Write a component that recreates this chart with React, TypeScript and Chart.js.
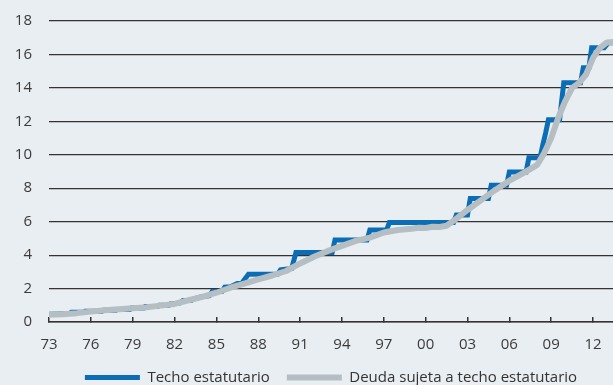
import React, { useEffect, useRef } from "react";
import { Chart, registerables } from "chart.js";

Chart.register(...registerables);

// Years on the x axis (fractional = within-year position)
const tickYears = [1973, 1976, 1979, 1982, 1985, 1988, 1991, 1994, 1997, 2000, 2003, 2006, 2009, 2012];

// Statutory debt limit (trillions USD), step changes
const ceilingYears = [
  1973.0, 1974.5, 1974.6, 1975.5, 1975.6, 1976.8, 1976.9, 1977.8, 1977.9, 1978.8, 1978.9,
  1979.8, 1979.9, 1980.8, 1980.9, 1981.6, 1981.7, 1982.4, 1982.6, 1983.2, 1983.4, 1983.8,
  1984.5, 1984.7, 1985.4, 1985.6, 1986.0, 1986.5, 1986.8, 1987.3, 1989.4, 1989.6, 1990.4,
  1990.7, 1993.3, 1993.5, 1995.8, 1996.0, 1997.2, 1997.4, 2002.0, 2002.2, 2003.0, 2003.2,
  2004.5, 2004.7, 2005.8, 2006.0, 2007.2, 2007.4, 2008.2, 2008.4, 2008.6, 2008.8, 2009.6,
  2009.9, 2011.1, 2011.3, 2011.7, 2011.9, 2012.8, 2013.1, 2013.45,
];
const ceilingValues = [
  0.47, 0.50, 0.58, 0.58, 0.64, 0.64, 0.70, 0.70, 0.75, 0.75, 0.83,
  0.83, 0.93, 0.93, 1.00, 1.00, 1.08, 1.14, 1.29, 1.29, 1.39, 1.49,
  1.57, 1.82, 1.82, 2.08, 2.11, 2.30, 2.30, 2.85, 2.87, 3.12, 3.20,
  4.15, 4.15, 4.90, 4.90, 5.50, 5.50, 5.95, 5.95, 6.40, 6.40, 7.38,
  7.38, 8.18, 8.18, 8.97, 8.97, 9.82, 9.82, 10.60, 11.30, 12.10, 12.10,
  14.30, 14.30, 15.20, 15.20, 16.40, 16.40, 16.70, 16.70,
];

// Debt subject to the limit (trillions USD)
const debtYears = [
  1973, 1974, 1975, 1976, 1977, 1978, 1979, 1980, 1981, 1982, 1983, 1984, 1985, 1986,
  1987, 1988, 1989, 1990, 1991, 1992, 1993, 1994, 1995, 1996, 1997, 1998, 1999, 1999.5,
  2000, 2000.5, 2001, 2001.5, 2002, 2003, 2004, 2005, 2006, 2007, 2008, 2008.5, 2009,
  2009.5, 2010, 2010.5, 2011, 2011.5, 2012, 2012.5, 2013, 2013.45,
];
const debtValues = [
  0.43, 0.47, 0.53, 0.62, 0.70, 0.76, 0.82, 0.88, 0.98, 1.08, 1.30, 1.50, 1.75, 2.05,
  2.30, 2.55, 2.78, 3.05, 3.50, 3.90, 4.25, 4.55, 4.85, 5.05, 5.35, 5.50, 5.58, 5.64,
  5.62, 5.70, 5.68, 5.76, 6.05, 6.70, 7.30, 7.90, 8.45, 8.90, 9.40, 10.10, 11.00,
  12.20, 13.20, 14.00, 14.30, 14.80, 15.80, 16.40, 16.72, 16.75,
];

const seriesLabels = ["Techo estatutario", "Deuda sujeta a techo estatutario"];
const X_MIN = 1973;
const X_MAX = 2013.43;

const FONT = "'Open Sans', 'Noto Sans', sans-serif";

export default function App() {
  const ref = useRef<HTMLCanvasElement | null>(null);

  useEffect(() => {
    if (!ref.current) return;
    const chart = new Chart(ref.current, {
      type: "line",
      data: {
        datasets: [
          {
            label: seriesLabels[0],
            data: ceilingYears.map((x, i) => ({ x, y: ceilingValues[i] })),
            borderColor: "#0b6db5",
            backgroundColor: "#0b6db5",
            borderWidth: 5,
            pointRadius: 0,
            tension: 0,
            borderCapStyle: "round",
            borderJoinStyle: "miter",
            order: 1,
          },
          {
            label: seriesLabels[1],
            data: debtYears.map((x, i) => ({ x, y: debtValues[i] })),
            borderColor: "#b5bfc3",
            backgroundColor: "#b5bfc3",
            borderWidth: 6,
            pointRadius: 0,
            tension: 0,
            borderCapStyle: "round",
            borderJoinStyle: "round",
            order: 0,
          },
        ],
      },
      options: {
        animation: false,
        responsive: false,
        maintainAspectRatio: false,
        layout: { padding: { top: 21, left: 0, right: 0, bottom: 0 } },
        plugins: {
          tooltip: { enabled: false },
          legend: {
            position: "bottom",
            fullSize: false,
            maxHeight: 32,
            labels: {
              usePointStyle: true,
              pointStyle: "line",
              pointStyleWidth: 55,
              padding: 17,
              color: "#333333",
              font: { family: FONT, size: 15 },
              sort: (a: any, b: any) => a.datasetIndex - b.datasetIndex,
            },
          },
        },
        scales: {
          x: {
            type: "linear",
            min: X_MIN,
            max: X_MAX,
            afterBuildTicks: (scale: any) => {
              scale.ticks = tickYears.map((v) => ({ value: v }));
            },
            afterFit: (scale: any) => {
              scale.height = 31;
              scale.paddingLeft = 0;
              scale.paddingRight = 0;
            },
            grid: {
              display: true,
              drawOnChartArea: false,
              drawTicks: true,
              tickLength: -5,
              color: "#333333",
              lineWidth: 1.5,
            },
            border: { display: true, color: "#333333", width: 1.5 },
            ticks: {
              autoSkip: false,
              maxRotation: 0,
              padding: 19,
              color: "#3a3a3a",
              font: { family: FONT, size: 15 },
              callback: (v: any) => String(Math.round(Number(v)) % 100).padStart(2, "0"),
            },
          },
          y: {
            min: 0,
            max: 18,
            afterFit: (scale: any) => {
              scale.width = 49;
              scale.paddingTop = 0;
              scale.paddingBottom = 0;
            },
            grid: {
              color: "#333333",
              lineWidth: 1.2,
              drawTicks: false,
            },
            border: { display: false },
            ticks: {
              stepSize: 2,
              padding: 17,
              color: "#3a3a3a",
              font: { family: FONT, size: 15 },
            },
          },
        },
      },
    });
    return () => chart.destroy();
  }, []);

  return (
    <div
      style={{
        position: "absolute",
        left: 0,
        top: 0,
        width: 613,
        height: 385,
        background: "#e9eef3",
      }}
    >
      <canvas ref={ref} width={613} height={385} style={{ display: "block" }} />
    </div>
  );
}
